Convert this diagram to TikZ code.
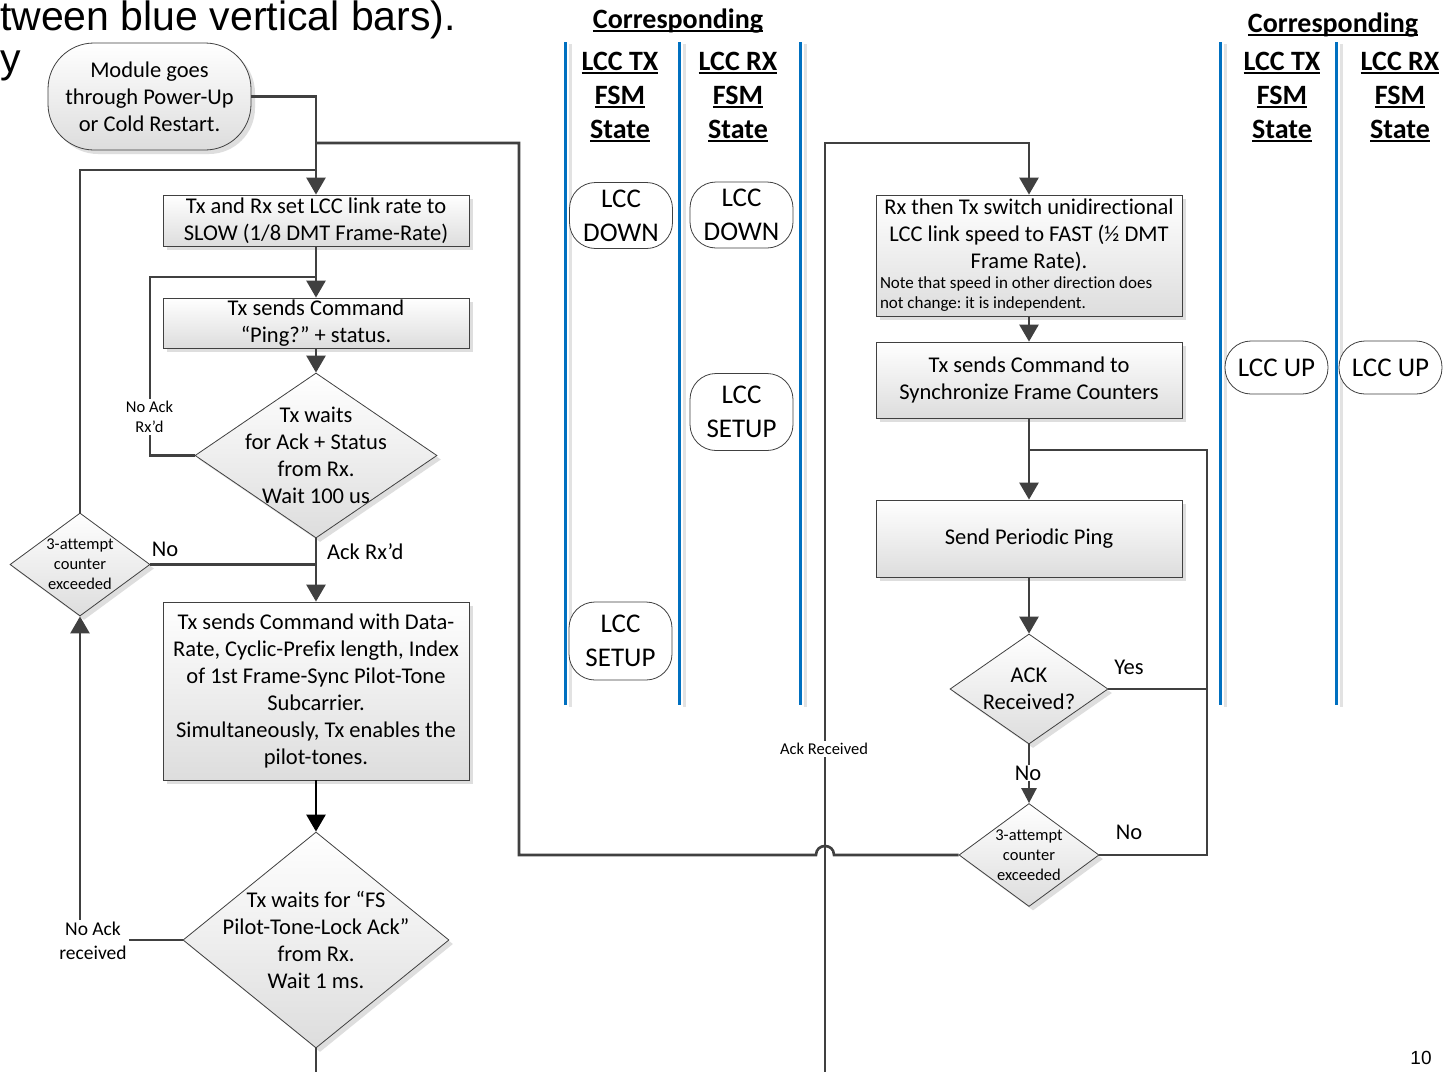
\documentclass[tikz,border=0pt]{standalone}
\usepackage{fontspec}
\setmainfont{Carlito}[Ligatures=CommonOff]
\newfontfamily\slidefont{Liberation Sans}
\usetikzlibrary{arrows.meta,shapes.geometric,shadows}
\frenchspacing

\definecolor{linegray}{HTML}{404040}
\definecolor{barblue}{HTML}{0070C0}
\definecolor{barshade}{HTML}{E2E2E2}
\definecolor{boxbottom}{HTML}{DDDDDD}

% font sizes (1pt = 1 unit of the drawing)
\newcommand{\fsNormal}{\fontsize{22.5}{27}\selectfont}
\newcommand{\fsSmall}{\fontsize{16.5}{20}\selectfont}
\newcommand{\fsNote}{\fontsize{17}{20}\selectfont}
\newcommand{\fsLabel}{\fontsize{19.5}{24}\selectfont}
\newcommand{\fsHead}{\fontsize{28}{34}\selectfont\bfseries}
\newcommand{\fsBubble}{\fontsize{27}{34}\selectfont}
% underline sitting close to the baseline
\newcommand{\hul}[1]{\leavevmode\setbox0=\hbox{#1}\rlap{\rule[-4pt]{\wd0}{2pt}}\box0}

\tikzset{
  conn/.style={draw=linegray, line width=2.6pt},
  arr/.style={conn, -{Triangle[length=17pt,width=19pt]}},
  arrsmall/.style={conn, -{Triangle[length=15pt,width=15pt]}},
  shadowed/.style={drop shadow={shadow xshift=4pt, shadow yshift=-4pt, fill=black!13, opacity=1}},
  procbox/.style={rectangle, draw=linegray, line width=0.8pt, top color=white,
    bottom color=boxbottom, shadowed, inner sep=0pt, align=center, font=\fsNormal},
  decision/.style={diamond, draw=linegray, line width=0.8pt, top color=white,
    bottom color=boxbottom, shadowed, inner sep=0pt},
  dtext/.style={align=center, inner sep=0pt},
  term/.style={rectangle, rounded corners=46pt, draw=linegray, line width=0.8pt,
    top color=white, bottom color=boxbottom, shadowed, inner sep=0pt,
    align=center, font=\fsNormal},
  bubble/.style={rectangle, rounded corners=26pt, draw=linegray, line width=0.8pt,
    fill=white, inner sep=0pt, align=center, font=\fsBubble},
  head/.style={align=center, inner sep=0pt, font=\fsHead},
  lbl/.style={inner sep=2pt, align=center},
  cut/.style={lbl, fill=white},
}

\begin{document}
\begin{tikzpicture}[x=1pt, y=-1pt]
\useasboundingbox (0,0) rectangle (1451,1071);
\clip (0,0) rectangle (1451,1071);
\fill[white] (0,0) rectangle (1451,1071);

% slide text around the flow chart
\node[anchor=base west, inner sep=0pt, font=\slidefont\fontsize{41}{48}\selectfont]
  (slidetop) at (0,30) {tween blue vertical bars).};
\node[anchor=base west, inner sep=0pt, font=\slidefont\fontsize{41}{48}\selectfont]
  (slidey) at (0,72) {y};
\node[font=\slidefont\fontsize{19}{22}\selectfont, inner sep=0pt] (pagenum) at (1421,1058) {10};

% state columns: blue bars with a pale shade beside them
\foreach \x in {565,679,800,1220,1336} {
  \draw[barshade, line width=3pt] (\x+5,44) -- (\x+5,707);
  \draw[barblue, line width=3pt] (\x,42) -- (\x,705);
}

% column headings
\node[head, anchor=base] (hdA) at (678,28) {\hul{Corresponding}};
\node[head] (hdAtx) at (620,97) {\hul{LCC TX}\\\hul{FSM}\\\hul{State}};
\node[head] (hdArx) at (738,97) {\hul{LCC RX}\\\hul{FSM}\\\hul{State}};
\node[head, anchor=base] (hdB) at (1333,32) {\hul{Corresponding}};
\node[head] (hdBtx) at (1282,97) {\hul{LCC TX}\\\hul{FSM}\\\hul{State}};
\node[head] (hdBrx) at (1400,97) {\hul{LCC RX}\\\hul{FSM}\\\hul{State}};

% FSM states
\node[bubble, minimum width=103pt, minimum height=66pt] (txdown) at (621,215.5) {LCC\\DOWN};
\node[bubble, minimum width=103pt, minimum height=66pt] (rxdown) at (741.5,215) {LCC\\DOWN};
\node[bubble, minimum width=103pt, minimum height=77pt] (rxsetup) at (741.5,412) {LCC\\SETUP};
\node[bubble, minimum width=103pt, minimum height=78pt] (txsetup) at (620.5,641) {LCC\\SETUP};
\node[bubble, minimum width=103pt, minimum height=53pt] (txup) at (1276.5,367.5) {LCC UP};
\node[bubble, minimum width=103pt, minimum height=53pt] (rxup) at (1390.5,367.5) {LCC UP};

% left flow
\node[term, minimum width=203pt, minimum height=107pt] (start) at (149.5,96.5)
  {Module goes\\through Power-Up\\or Cold Restart.};
\node[procbox, minimum width=306pt, minimum height=51pt] (b1) at (316,220.5)
  {Tx and Rx set LCC link rate to\\SLOW (1/8 DMT Frame-Rate)};
\node[procbox, minimum width=306pt, minimum height=50pt] (b2) at (316,323)
  {Tx sends Command\\“Ping?” + status.};
\node[decision, minimum width=242pt, minimum height=165pt] (d1) at (316,455.5) {};
\node[dtext, font=\fsNormal] (d1t) at (d1) {Tx waits\\for Ack + Status\\from Rx.\\Wait 100 us};
\node[procbox, minimum width=306pt, minimum height=178pt] (b3) at (316,691)
  {Tx sends Command with Data-\\Rate, Cyclic-Prefix length, Index\\of 1st Frame-Sync Pilot-Tone\\Subcarrier.\\Simultaneously, Tx enables the\\pilot-tones.};
\node[decision, minimum width=266pt, minimum height=216pt] (d2) at (316,940) {};
\node[dtext, font=\fsNormal] (d2t) at (d2) {Tx waits for “FS\\Pilot-Tone-Lock Ack”\\from Rx.\\Wait 1 ms.};
\node[decision, minimum width=140pt, minimum height=103pt] (c1) at (80,564.5) {};
\node[dtext, font=\fsSmall] (c1t) at (c1) {3-attempt\\counter\\exceeded};

% right flow
\node[procbox, minimum width=306pt, minimum height=121pt] (r1) at (1029,255.5)
  {\parbox{298pt}{\centering Rx then Tx switch unidirectional\\LCC link speed to FAST (½ DMT\\Frame Rate).\par
   \raggedright\fsNote Note that speed in other direction does\\not change: it is independent.\par}};
\node[procbox, minimum width=306pt, minimum height=76pt] (r2) at (1029,380)
  {Tx sends Command to\\Synchronize Frame Counters};
\node[procbox, minimum width=306pt, minimum height=77pt] (r3) at (1029,538.5)
  {Send Periodic Ping};
\node[decision, minimum width=158pt, minimum height=110pt] (a1) at (1029,689) {};
\node[dtext, font=\fsNormal] (a1t) at (a1) {ACK\\Received?};
\node[decision, minimum width=140pt, minimum height=103pt] (c2) at (1029,855) {};
\node[dtext, font=\fsSmall] (c2t) at (c2) {3-attempt\\counter\\exceeded};

% junction points and off-page ends
\coordinate (m1) at (316,143);
\coordinate (m2) at (316,170);
\coordinate (m3) at (316,277);
\coordinate (m4) at (316,564.5);
\coordinate (m5) at (1029,450);
\coordinate (rr) at (1207,689);
\coordinate (out1) at (316,1080);
\coordinate (in2) at (825,1080);
\coordinate (k1) at (825,143);

% left connectors
\draw[arr] (start.east) -| (b1.north);
\draw[conn] (c1.north) |- (m2);
\draw[arr] (b1.south) -- (b2.north);
\draw[conn] (d1.west) -| (150,277) -- (m3);
\draw[arr] (b2.south) -- (d1.north);
\draw[arr] (d1.south) -- (b3.north);
\draw[conn] (c1.east) -- (m4);
\draw[arr, draw=black] (b3.south) -- (d2.north);
\draw[arr] (d2.west) -| (c1.south);
\draw[conn] (d2.south) -- (out1);

% return path from the second counter, hopping over the middle line
\draw[arr] (in2) -- (k1) -| (r1.north);
\draw[conn] (c2.west) -- (834,855) .. controls (834,843) and (816,843) .. (816,855)
  -- (519,855) |- (m1);

% right connectors
\draw[arr] (r1.south) -- (r2.north);
\draw[arr] (r2.south) -- (r3.north);
\draw[arr] (r3.south) -- (a1.north);
\draw[conn] (a1.east) -| (1207,450) -- (m5);
\draw[conn] (c2.east) -| (rr);
\draw[arrsmall] (a1.south) -- (c2.north);

% connector labels
\node[cut, font=\fsSmall] (lnoack1) at (149.5,417) {No Ack\\Rx’d};
\node[lbl, font=\fsNormal] (lno1) at (165,549) {No};
\node[lbl, font=\fsNormal, anchor=west] (lackrxd) at (325,552) {Ack Rx’d};
\node[cut, font=\fsLabel] (lnoack2) at (93,941) {No Ack\\received};
\node[cut, font=\fsSmall] (lackrec) at (824,749) {Ack Received};
\node[lbl, font=\fsNormal] (lyes) at (1129,667) {Yes};
\node[lbl, font=\fsNormal] (lno3) at (1129,832) {No};
\node[cut, font=\fsNormal, inner sep=1pt] (lno2) at (1028,773) {No};
\end{tikzpicture}
\end{document}
